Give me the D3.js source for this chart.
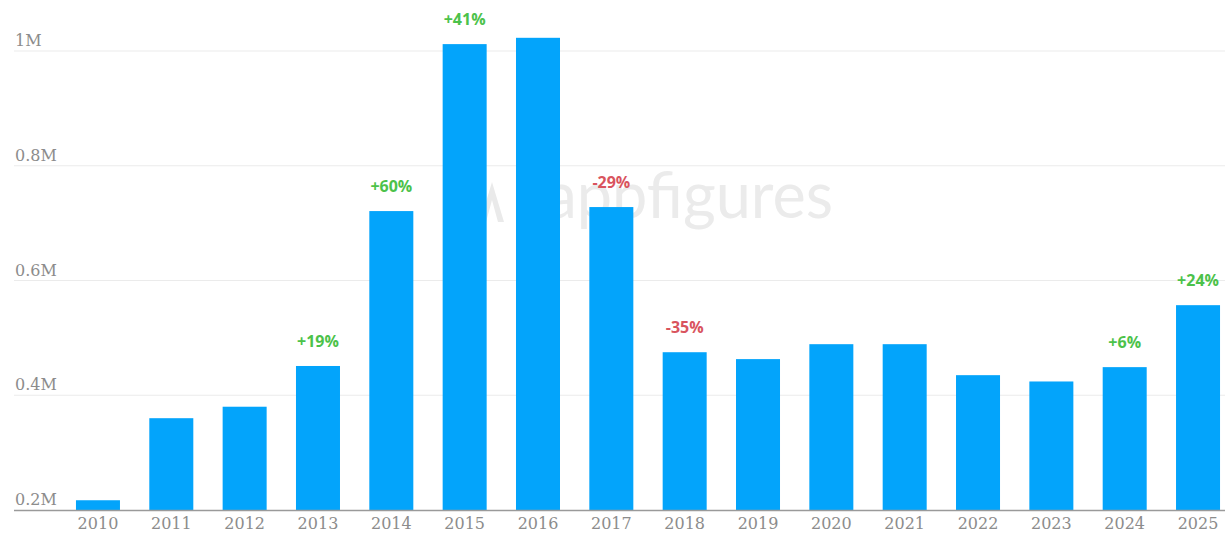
<!DOCTYPE html>
<html><head><meta charset="utf-8">
<script src="https://cdn.jsdelivr.net/npm/d3@7"></script>
<style>body{margin:0;background:#fff}svg{display:block}</style>
</head><body>
<svg id="c" width="1225" height="535"></svg>
<script>
const years = ["2010","2011","2012","2013","2014","2015","2016","2017","2018","2019","2020","2021","2022","2023","2024","2025"];
const values = [0.217,0.360,0.380,0.451,0.721,1.012,1.023,0.728,0.475,0.463,0.489,0.489,0.435,0.424,0.449,0.557];
const changeYears = ["2013","2014","2015","2017","2018","2024","2025"];
const changeLabels = ["+19%","+60%","+41%","-29%","-35%","+6%","+24%"];
const yTicks = [0.2,0.4,0.6,0.8,1.0];
const yTickLabels = ["0.2M","0.4M","0.6M","0.8M","1M"];

const svg = d3.select("#c");
const x = d3.scaleBand().domain(years).range([61.3,1234.7]).paddingInner(0.4).paddingOuter(0.2);
const y = d3.scaleLinear().domain([0.2,1.0]).range([510,51]);

// gridlines
svg.append("g").selectAll("line").data(yTicks.slice(1)).join("line")
  .attr("x1",14).attr("x2",1225).attr("y1",d=>y(d)).attr("y2",d=>y(d))
  .attr("stroke","#ebebeb").attr("stroke-width",1.2);

// watermark
const wm = svg.append("g");
wm.append("path").attr("d","M480,222 L492,182 L504,222 L498,222 L492,200 L486,222 Z")
  .attr("fill","#eaeaea");
wm.append("text").attr("x",833).attr("y",218).attr("text-anchor","end")
  .attr("font-family","Lato, 'Open Sans', sans-serif").attr("font-weight",400)
  .attr("font-size",63).attr("fill","#ebebeb").text("appfigures");

// y labels
svg.append("g").selectAll("text").data(yTicks).join("text")
  .attr("x",15).attr("y",d=>y(d)-5)
  .attr("font-family","'DejaVu Serif', serif").attr("font-size",16)
  .attr("fill","#8c8c8c").text((d,i)=>yTickLabels[i]);

// bars
svg.append("g").selectAll("rect").data(years).join("rect")
  .attr("x",d=>x(d)).attr("width",x.bandwidth())
  .attr("y",(d,i)=>y(values[i])).attr("height",(d,i)=>y(0.2)-y(values[i]))
  .attr("fill","#03a4fb");

// axis
const xAxis = d3.axisBottom(x).tickSize(0).tickPadding(8);
const ax = svg.append("g").attr("transform","translate(0,510)").call(xAxis);
ax.select(".domain").attr("d","M14,0.5H1225").attr("stroke","#9a9a9a").attr("stroke-width",1.5);
ax.selectAll("text").attr("font-family","'DejaVu Serif', serif").attr("font-size",16).attr("fill","#8c8c8c");

// change labels
svg.append("g").selectAll("text").data(changeYears).join("text")
  .attr("x",d=>x(d)+x.bandwidth()/2)
  .attr("y",d=>y(values[years.indexOf(d)])-19)
  .attr("text-anchor","middle")
  .attr("font-family","'Open Sans', sans-serif").attr("font-weight",700).attr("font-size",16)
  .attr("fill",(d,i)=>changeLabels[i][0]==="-"?"#d9545e":"#4cc24a")
  .text((d,i)=>changeLabels[i]);
</script>
</body></html>
